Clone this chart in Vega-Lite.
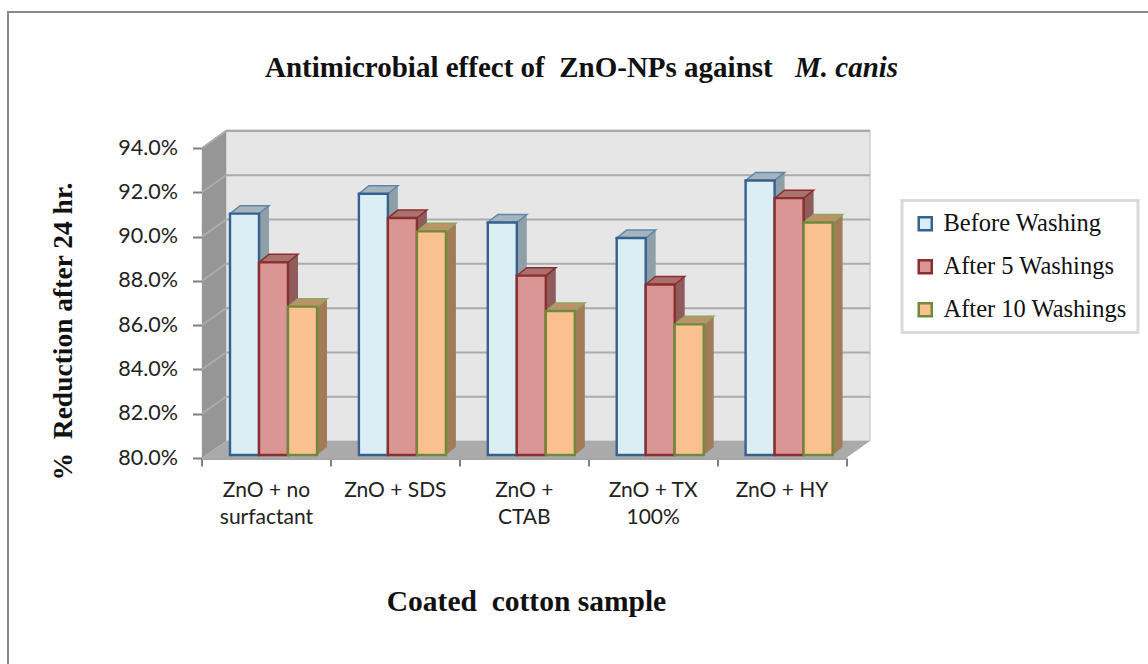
{
"$schema":"https://vega.github.io/schema/vega-lite/v6.json",
"width":644.5,"height":310,
"autosize":{"type":"none"},
"padding":{"left":201.5,"top":148,"right":302,"bottom":206},
"background":"white",
"config":{"legend":{"strokeWidth":3}},
"title":{"text":"Antimicrobial effect of \u00a0ZnO-NPs against","anchor":"start","frame":"group","dx":63.5,"offset":-75,"font":"Liberation Serif","fontSize":29,"fontWeight":"bold","color":"#111111"},
"datasets":{
"bars":[
{"sample":"ZnO + no surfactant","series":"Before Washing","value":0.909},
{"sample":"ZnO + no surfactant","series":"After 5 Washings","value":0.887},
{"sample":"ZnO + no surfactant","series":"After 10 Washings","value":0.867},
{"sample":"ZnO + SDS","series":"Before Washing","value":0.918},
{"sample":"ZnO + SDS","series":"After 5 Washings","value":0.907},
{"sample":"ZnO + SDS","series":"After 10 Washings","value":0.901},
{"sample":"ZnO + CTAB","series":"Before Washing","value":0.905},
{"sample":"ZnO + CTAB","series":"After 5 Washings","value":0.881},
{"sample":"ZnO + CTAB","series":"After 10 Washings","value":0.865},
{"sample":"ZnO + TX 100%","series":"Before Washing","value":0.898},
{"sample":"ZnO + TX 100%","series":"After 5 Washings","value":0.877},
{"sample":"ZnO + TX 100%","series":"After 10 Washings","value":0.859},
{"sample":"ZnO + HY","series":"Before Washing","value":0.924},
{"sample":"ZnO + HY","series":"After 5 Washings","value":0.916},
{"sample":"ZnO + HY","series":"After 10 Washings","value":0.905}
],
"ticks":[{"tick":0.82},{"tick":0.84},{"tick":0.86},{"tick":0.88},{"tick":0.90},{"tick":0.92},{"tick":0.94}],
"base":[{"tick":0.80}]
},
"data":{"name":"bars"},
"resolve":{"scale":{"fill":"independent","stroke":"independent","xOffset":"independent"},"axis":{"x":"independent","y":"independent"}},
"layer":[
{"data":{"name":"base"},"mark":{"type":"point","filled":true,"opacity":1,"size":4,"fill":"white","stroke":"#8a8a8a","strokeWidth":2,"fillOpacity":0,"shape":"M-515.75,206L-515.75,-446L624.25,-446"},
 "encoding":{"y":{"field":"tick","type":"quantitative","scale":{"domain":[0.80,0.94],"nice":false,"zero":false},"axis":null}}},
{"data":{"name":"base"},"mark":{"type":"point","filled":true,"opacity":1,"size":4,"fill":"#e6e6e6","stroke":"#bdbdbd","strokeWidth":1,"shape":"M-297.75,-17L346.25,-17L346.25,-328L-297.75,-328Z"},
 "encoding":{"y":{"field":"tick","type":"quantitative","axis":null}}},
{"data":{"name":"base"},"mark":{"type":"point","filled":true,"opacity":1,"size":4,"fill":"#969696","shape":"M-321.75,0L-297.75,-17L-297.75,-328L-321.75,-310Z"},
 "encoding":{"y":{"field":"tick","type":"quantitative","axis":null}}},
{"data":{"name":"base"},"mark":{"type":"point","filled":true,"opacity":1,"size":4,"fill":"#aaaaaa","shape":"M-321.75,0L-297.75,-17L346.25,-17L322.25,0Z"},
 "encoding":{"y":{"field":"tick","type":"quantitative","axis":null}}},
{"data":{"name":"ticks"},"mark":{"type":"point","filled":true,"opacity":1,"size":4,"fill":"white","fillOpacity":0,"stroke":"#ababab","strokeWidth":2,"shape":"M-321.75,0L-297.75,-17L346.25,-17"},
 "encoding":{"y":{"field":"tick","type":"quantitative","axis":null}}},
{"mark":{"type":"bar","width":10,"yOffset":-11,"y2Offset":-11},
 "encoding":{
 "x":{"field":"sample","type":"nominal","sort":null,"scale":{"paddingInner":0,"paddingOuter":0},
  "axis":{"orient":"top","labels":false,"ticks":false,"domain":false,"grid":false,"title":"M. canis","titleFont":"Liberation Serif","titleFontSize":29,"titleFontStyle":"italic","titleFontWeight":"bold","titleColor":"#111111","titleX":593,"titleY":-72,"titleAlign":"left","titleBaseline":"alphabetic"}},
 "xOffset":{"field":"series","type":"nominal","sort":null,"scale":{"type":"band","domain":["Before Washing","After 5 Washings","After 10 Washings"],"paddingInner":0,"paddingOuter":0,"range":[48,135]}},
 "y":{"field":"value","type":"quantitative","axis":null},
 "y2":{"datum":0.80},
 "fill":{"field":"series","type":"nominal","legend":null,"scale":{"domain":["Before Washing","After 5 Washings","After 10 Washings"],"range":["#8f9fa6","#8e5c5b","#a07c58"]}}
 }},
{"mark":{"type":"point","filled":true,"opacity":1,"size":4,"yOffset":-3,"shape":"M14.5,0L24.5,-8L14.5,-8Z"},
 "encoding":{
 "x":{"field":"sample","type":"nominal","sort":null,"axis":null},
 "xOffset":{"field":"series","type":"nominal","sort":null,"scale":{"type":"band","domain":["Before Washing","After 5 Washings","After 10 Washings"],"paddingInner":0,"paddingOuter":0,"range":[28.5,115.5]}},
 "y":{"datum":0.80,"axis":null},
 "fill":{"field":"series","type":"nominal","legend":null,"scale":{"domain":["Before Washing","After 5 Washings","After 10 Washings"],"range":["#8f9fa6","#8e5c5b","#a07c58"]}}
 }},
{"mark":{"type":"point","filled":true,"opacity":1,"size":4,"yOffset":-3,"strokeWidth":1.5,"shape":"M-14.5,0L14.5,0L24.5,-8L-4.5,-8Z"},
 "encoding":{
 "x":{"field":"sample","type":"nominal","sort":null,"axis":null},
 "xOffset":{"field":"series","type":"nominal","sort":null,"scale":{"type":"band","domain":["Before Washing","After 5 Washings","After 10 Washings"],"paddingInner":0,"paddingOuter":0,"range":[28.5,115.5]}},
 "y":{"field":"value","type":"quantitative","axis":null},
 "fill":{"field":"series","type":"nominal","legend":null,"scale":{"domain":["Before Washing","After 5 Washings","After 10 Washings"],"range":["#a5b5bb","#ab7070","#bc9268"]}},
 "stroke":{"field":"series","type":"nominal","legend":null,"scale":{"domain":["Before Washing","After 5 Washings","After 10 Washings"],"range":["#5f86ad","#8a2f2e","#8fa860"]}}
 }},
{"mark":{"type":"bar","strokeWidth":2.4,"yOffset":-3,"y2Offset":-3},
 "encoding":{
 "x":{"field":"sample","type":"nominal","sort":null,
  "axis":{"orient":"bottom","title":"Coated \u00a0cotton sample","titleFont":"Liberation Serif","titleFontSize":29.5,"titleFontWeight":"bold","titleColor":"#111111","titleX":324.5,"titleY":152,"titleAlign":"center","titleBaseline":"alphabetic","labelAngle":0,"labelFont":"Lato","labelFontSize":21,"labelColor":"#222222","labelPadding":30,"labelLineHeight":27,"labelBaseline":"alphabetic","labelLimit":200,"tickBand":"extent","tickSize":8,"tickWidth":2,"tickColor":"#808080","domainColor":"#a6a6a6","domainWidth":3,"grid":false,
  "labelExpr":"datum.value=='ZnO + no surfactant'?['ZnO + no','surfactant']:datum.value=='ZnO + CTAB'?['ZnO +','CTAB']:datum.value=='ZnO + TX 100%'?['ZnO + TX','100%']:datum.value"}},
 "xOffset":{"field":"series","type":"nominal","sort":null,"scale":{"type":"band","domain":["Before Washing","After 5 Washings","After 10 Washings"],"paddingInner":0,"paddingOuter":0,"range":[28.5,115.5]}},
 "y":{"field":"value","type":"quantitative",
  "axis":{"title":"% \u00a0Reduction after 24 hr.","titleFont":"Liberation Serif","titleFontSize":27.5,"titleFontWeight":"bold","titleColor":"#111111","titleX":-138,"titleY":183,"titleAngle":-90,"titleAlign":"center","titleBaseline":"middle","values":[0.80,0.82,0.84,0.86,0.88,0.90,0.92,0.94],"format":".1%","labelFont":"Lato","labelFontSize":21.5,"labelColor":"#222222","labelPadding":15,"tickSize":9,"tickWidth":2,"tickColor":"#808080","domain":false,"grid":false}},
 "y2":{"datum":0.80},
 "fill":{"field":"series","type":"nominal","title":null,"scale":{"domain":["Before Washing","After 5 Washings","After 10 Washings"],"range":["#dbeef4","#d99694","#fac090"]},
  "legend":{"orient":"none","legendX":700.5,"legendY":52.5,"fillColor":"white","strokeColor":"#dadada","padding":11,"symbolType":"square","symbolSize":170,"symbolStrokeWidth":2.5,"labelFont":"Liberation Serif","labelFontSize":24.5,"labelColor":"#111111","labelOffset":6,"rowPadding":18,"labelLimit":300}},
 "stroke":{"field":"series","type":"nominal","title":null,"scale":{"domain":["Before Washing","After 5 Washings","After 10 Washings"],"range":["#376092","#8a2f2e","#6f8b3a"]}}
 }}
]
}
